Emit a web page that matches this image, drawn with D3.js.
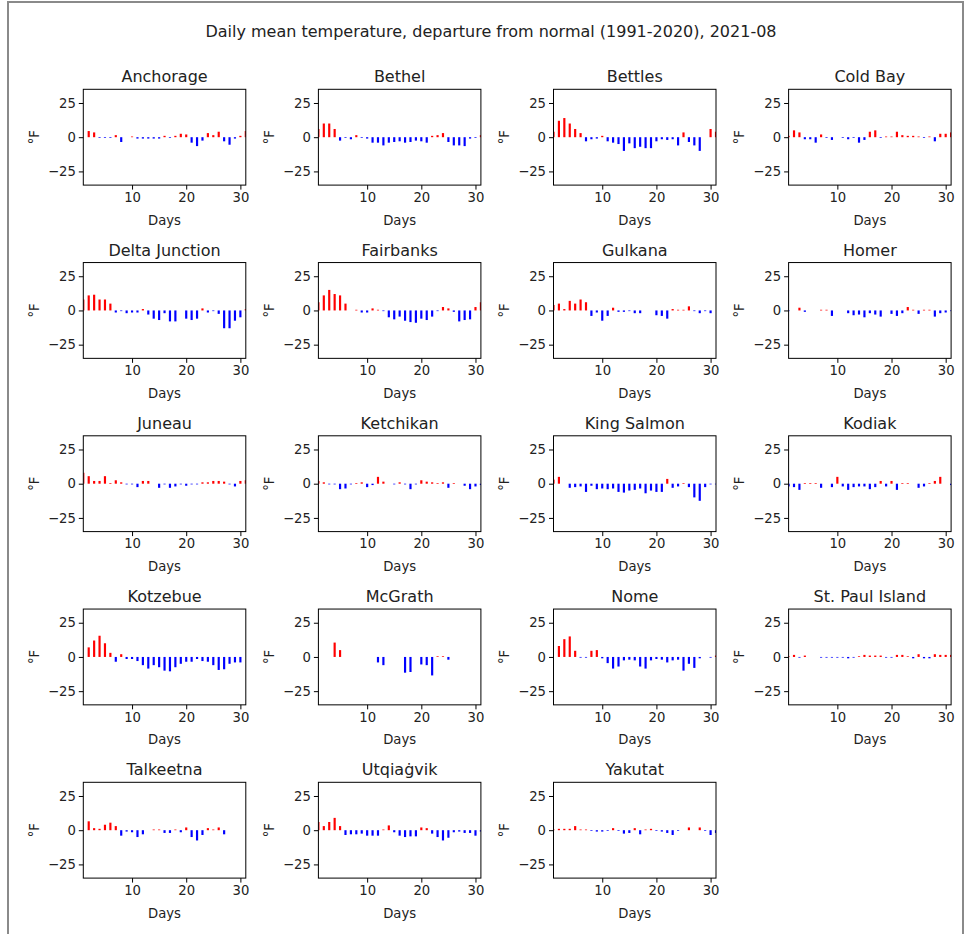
<!DOCTYPE html>
<html>
<head>
<meta charset="utf-8">
<script src="https://cdn.jsdelivr.net/npm/d3@7"></script>
<style>
  body { margin: 0; background: #fff; }
  svg { font-family: "DejaVu Sans", sans-serif; }
</style>
</head>
<body>
<div id="chart"></div>
<script>
/* ---------------------- Data ---------------------- */
var title = "Daily mean temperature, departure from normal (1991-2020), 2021-08";
var days = [1, 2, 3, 4, 5, 6, 7, 8, 9, 10, 11, 12, 13, 14, 15, 16, 17, 18, 19, 20, 21, 22, 23, 24, 25, 26, 27, 28, 29, 30, 31];
var xTicks = [10, 20, 30];
var yTicks = [-25, 0, 25];

// departure from normal, °F, one value per day (null = missing)
var anchorage   = [null, 4.5, 3.5, -0.5, -0.5, -0.5, 1.5, -3.5, null, 0.5, -1, -1, -1, -1, -1, 1, -0.5, 1, 2.5, 2, -4, -6.5, -2.5, 3, 1.5, 4, -3, -5.5, -1, 1, 4.5];
var bethel      = [6, 10, 10, 6, -2.5, -0.5, -1.5, 1.5, -0.5, -1, -4, -4, -6, -4, -3.5, -3, -4, -3.5, -2.5, -3, -4, 1, 1.5, 3, -3.5, -6, -6, -6.5, -1, -0.5, 1.5];
var bettles     = [4, 12, 14, 10, 6, 3, -3, -1.5, -1, 1, -3, -4, -5, -10, -4.5, -8, -7, -8, -8, -3, -1.5, -2, -1.5, -6, 3.5, -3.5, -6, -10, null, 6, 4];
var coldBay     = [1, 5, 3.5, -1.5, -1.5, -4, 2, -0.5, -2, null, -0.5, -1.5, -0.5, -4, -2, 4, 5, -0.5, 0.5, 0.5, 4, 1.5, 1, 1, 0.5, -0.5, 0.5, -3, 2.5, 2.5, 3.5];
var deltaJct    = [8, 11, 11.5, 8, 8, 5, -1.5, -0.5, -2, -1.5, -1.5, 1, -3, -6, -7, -2, -8, -8, null, -6, -7, -6, 1.5, -1.5, -0.5, -2.5, -13, -13, -7.5, -5, 1];
var fairbanks   = [6, 11, 15, 12, 11, 5, null, 0.5, -1.5, -1.5, 1.5, 0.5, -0.5, -5, -6.5, -4.5, -7.5, -8.5, -9, -6, -7, -4.5, -0.5, 2.5, 1.5, -1, -8, -7, -6.5, 2.5, 6];
var gulkana     = [4, 5, 1, 7, 5, 8, 6, -4, -1.5, -7.5, -4, 2, -1, -1, -0.5, -2, -2, null, null, -3.5, -4, -6, 1, 0.5, 0.5, 3, -0.5, -2, -0.5, -2, null];
var homer       = [-0.5, null, 2, -1, null, null, 0.5, 0.5, -4, null, null, -2, -3.5, -3, -5, -2, -3, -4.5, null, -2.5, -4, -2, 2.5, 0.5, -2.5, 0.5, 0.5, -4.5, -2, -1.5, -0.5];
var juneau      = [8, 5.5, 2, 2, 5.5, 0.5, 2.5, 1, -0.5, -0.5, -2.5, 2, 2, null, -3, -0.5, -3, -2, -0.5, -1.5, -0.5, -0.5, 1, 1, 2, 2, 1.5, -0.5, -2, 2, 2.5];
var ketchikan   = [2, 1, -0.5, -0.5, -4, -3.5, -0.5, 0.5, 1, -2.5, -1, 5, 1.5, null, -0.5, 1, -0.5, -4, -0.5, 2.5, 1.5, 1, 0.5, 1, -3, 0.5, null, -1.5, -4, -2, -1];
var kingSalmon  = [3, 5, null, -3, -2.5, -2, -6, -1.5, -4, -3.5, -4, -3.5, -6, -6.5, -5, -4.5, -3.5, -7, -5, -6, -6, 3.5, -3, -2, 0.5, -2.5, -10, -12.5, -2.5, -0.5, -0.5];
var kodiak      = [-2, -2.5, -4.5, 0.5, 0.5, 0.5, -3, null, -2.5, 5, -2, -4.5, -2.5, -2, -2, -4, -2.5, 2, -2, 2, -4.5, 0.5, 0.5, null, -3, -2, 0.5, 2, 5, null, -1];
var kotzebue    = [null, 7, 12, 15.5, 10, 3, -3.5, 2, -1.5, -1.5, -3, -6, -8.5, -6, -7.5, -10, -10.5, -7.5, -5, -3.5, -3.5, -1.5, -3, -3.5, -6, -9.5, -9, -5, -4, -4, null];
var mcgrath     = [null, null, null, 10.5, 5, null, null, null, null, null, null, -4, -6, null, null, null, -11.5, -11, null, -5.5, -6, -13.5, 0.5, 0.5, -2, null, null, null, null, null, null];
var nome        = [null, 8, 13, 15, 4.5, -0.5, -0.5, 4.5, 5, -1, -4.5, -8.5, -7, -2.5, -2, -2.5, -7, -8.5, -2.5, -1.5, -2, -4, -2.5, -2, -10, -5, -8, -1, null, -0.5, 1];
var stPaul      = [0.5, 1.5, -0.5, 1, null, null, -0.5, -0.5, -0.5, -0.5, -0.5, -1, -0.5, 0.5, 1.5, 1, 1, 1, -0.5, -0.5, 1.5, 1.5, 0.5, -1, 2, -1, -1, 2, 1.5, 1.5, 1.5];
var talkeetna   = [null, 6.5, 1.5, 1, 4, 5.5, 3, -4, -1, -1.5, -5, -3, null, 0.5, 0.5, -2, -2, 0.5, -1.5, 2, -5, -7.5, -3.5, 1.5, 0.5, 2, -3, null, null, null, null];
var utqiagvik   = [6, 3, 6, 9, 3, -3.5, -3, -3, -2.5, -4, -4, -4, 0.5, 3.5, -1.5, -4, -5, -4.5, -4.5, 2, 1.5, -2.5, -5, -7.5, -5.5, -1.5, -1, -2, -2, -4, -1];
var yakutat     = [0.5, 1, 1, 1, 3, 0.5, 0.5, -0.5, -1, -1, -0.5, 1.5, -0.5, -2.5, -2, 1.5, -3, 0.5, 1, -0.5, -1, -2, -3.5, -0.5, null, 2, null, 2, -0.5, -3.5, -2];

var stations = [
    ["Anchorage", anchorage], ["Bethel", bethel], ["Bettles", bettles], ["Cold Bay", coldBay],
    ["Delta Junction", deltaJct], ["Fairbanks", fairbanks], ["Gulkana", gulkana], ["Homer", homer],
    ["Juneau", juneau], ["Ketchikan", ketchikan], ["King Salmon", kingSalmon], ["Kodiak", kodiak],
    ["Kotzebue", kotzebue], ["McGrath", mcgrath], ["Nome", nome], ["St. Paul Island", stPaul],
    ["Talkeetna", talkeetna], ["Utqiaġvik", utqiagvik], ["Yakutat", yakutat]
];

/* ---------------------- Layout ---------------------- */
var W = 973, H = 934;
var ncol = 4;
var left0 = 83.3, top0 = 89.3;      // first axes box
var colStep = 235.1, rowStep = 173.25;
var pw = 162.5, ph = 95.8;          // axes box size
var colors = {pos: "#ff0000", neg: "#0000ff", text: "#222"};
var fs = {title: 16, tick: 13.2};

var svg = d3.select("#chart").append("svg")
    .attr("width", W)
    .attr("height", H);

svg.append("rect")
    .attr("width", W).attr("height", H)
    .attr("fill", "#fff");

// figure frame
svg.append("rect")
    .attr("x", 8).attr("y", 2)
    .attr("width", 955).attr("height", 950)
    .attr("fill", "none")
    .attr("stroke", "#8a8a8a")
    .attr("stroke-width", 2);

svg.append("text")
    .attr("x", 491).attr("y", 31)
    .attr("text-anchor", "middle")
    .attr("dominant-baseline", "central")
    .attr("font-size", fs.title)
    .attr("fill", colors.text)
    .text(title);

var xScale = d3.scaleLinear().domain([1, 31]).range([0, pw]);
var yScale = d3.scaleLinear().domain([-35, 35]).range([ph, 0]);
var barW = 0.4;

stations.forEach(function(st, i) {
    var name = st[0], values = st[1];
    var col = i % ncol, row = Math.floor(i / ncol);
    var g = svg.append("g")
        .attr("transform", `translate(${left0 + col * colStep}, ${top0 + row * rowStep})`);

    var clipId = "clip" + i;
    g.append("clipPath").attr("id", clipId)
        .append("rect").attr("width", pw).attr("height", ph);

    var data = days.map((d, j) => ({day: d, value: values[j]}))
        .filter(d => d.value !== null);

    g.append("g")
        .attr("clip-path", `url(#${clipId})`)
        .selectAll("rect")
        .data(data)
        .enter()
        .append("rect")
        .attr("x", d => xScale(d.day - barW / 2))
        .attr("width", d => xScale(d.day + barW / 2) - xScale(d.day - barW / 2))
        .attr("y", d => yScale(Math.max(0, d.value)))
        .attr("height", d => Math.abs(yScale(d.value) - yScale(0)))
        .attr("fill", d => d.value >= 0 ? colors.pos : colors.neg);

    // axes
    var xAxis = d3.axisBottom(xScale).tickValues(xTicks).tickSize(4.5).tickPadding(3);
    var yAxis = d3.axisLeft(yScale).tickValues(yTicks).tickSize(4.5).tickPadding(3)
        .tickFormat(d => d < 0 ? "\u2212" + Math.abs(d) : d);

    var gx = g.append("g").attr("transform", `translate(0, ${ph})`).call(xAxis);
    var gy = g.append("g").call(yAxis);
    [gx, gy].forEach(a => {
        a.select(".domain").remove();
        a.selectAll("line").attr("stroke", "#000").attr("stroke-width", 1);
        a.selectAll("text").attr("font-size", fs.tick).attr("fill", colors.text)
            .attr("font-family", "DejaVu Sans");
    });

    g.append("rect")
        .attr("width", pw).attr("height", ph)
        .attr("fill", "none")
        .attr("stroke", "#000")
        .attr("stroke-width", 1);

    g.append("text")
        .attr("x", pw / 2).attr("y", -12.5)
        .attr("text-anchor", "middle")
        .attr("dominant-baseline", "central")
        .attr("font-size", fs.title)
        .attr("fill", colors.text)
        .text(name);

    g.append("text")
        .attr("x", pw / 2).attr("y", ph + 35)
        .attr("text-anchor", "middle")
        .attr("dominant-baseline", "central")
        .attr("font-size", fs.tick)
        .attr("fill", colors.text)
        .text("Days");

    g.append("text")
        .attr("transform", `translate(-49, ${ph / 2}) rotate(-90)`)
        .attr("text-anchor", "middle")
        .attr("dominant-baseline", "central")
        .attr("font-size", fs.tick)
        .attr("fill", colors.text)
        .text("°F");
});
</script>
</body>
</html>
